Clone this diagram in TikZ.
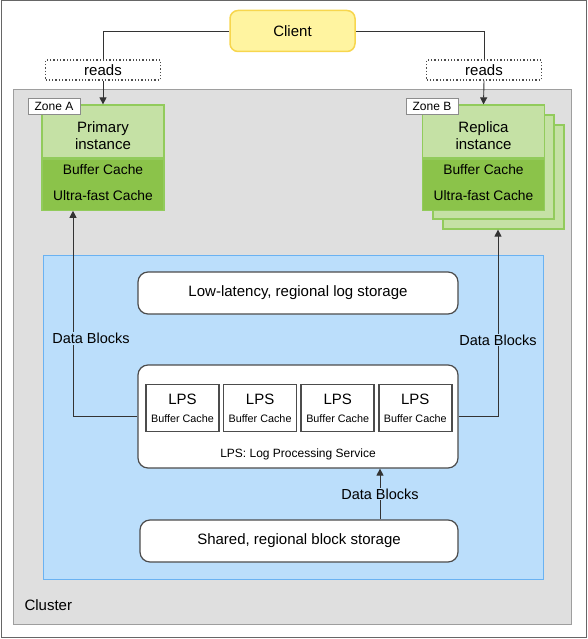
\documentclass[tikz,border=0pt]{standalone}
\usepackage{fontspec}
\setmainfont{Liberation Sans}
\usetikzlibrary{positioning,arrows.meta}

\definecolor{clusterfill}{HTML}{DFDFDF}
\definecolor{clusterline}{HTML}{9E9E9E}
\definecolor{bluefill}{HTML}{BBDEFB}
\definecolor{blueline}{HTML}{6AB2F2}
\definecolor{lightgreen}{HTML}{C5E1A5}
\definecolor{darkgreen}{HTML}{8BC34A}
\definecolor{instline}{HTML}{92CB5C}
\definecolor{clientfill}{HTML}{FFF4A0}
\definecolor{clientline}{HTML}{F7D64E}

\begin{document}
\begin{tikzpicture}[x=1pt,y=-1pt,>={Triangle[length=7pt,width=7pt]},
    cluster/.style={draw=clusterline,fill=clusterfill,line width=1.2pt,inner sep=0pt},
    region/.style={draw=blueline,fill=bluefill,line width=1.2pt,inner sep=0pt},
    client node/.style={draw=clientline,fill=clientfill,line width=1.5pt,rounded corners=8pt,minimum width=125pt,minimum height=41pt,inner sep=0pt,font=\fontsize{15}{17}\selectfont},
    reads node/.style={draw=black!70,fill=white,dotted,line width=1.3pt,minimum width=115pt,minimum height=20pt,inner sep=0pt,font=\fontsize{15}{17}\selectfont},
    zone node/.style={draw=black!45,fill=white,line width=0.9pt,minimum width=52pt,minimum height=16pt,inner sep=0pt,font=\fontsize{12}{14}\selectfont},
    inst top/.style={draw=instline,fill=lightgreen,line width=1.2pt,minimum width=122pt,minimum height=53pt,inner sep=0pt,align=center,font=\fontsize{15}{17}\selectfont},
    inst bottom/.style={draw=instline,fill=darkgreen,line width=1.2pt,minimum width=122pt,minimum height=51pt,inner sep=0pt,align=center,font=\fontsize{13.8}{15}\selectfont},
    inst copy/.style={draw=instline,fill=lightgreen,line width=1.2pt,minimum width=121pt,minimum height=104pt,inner sep=0pt},
    store node/.style={draw=black!70,fill=white,line width=1.2pt,rounded corners=10pt,minimum width=320pt,minimum height=42pt,inner sep=0pt,font=\fontsize{15}{17}\selectfont},
    lps node/.style={draw=black!70,fill=white,line width=1.6pt,minimum width=73pt,minimum height=47pt,inner sep=0pt,align=center,font=\fontsize{15}{17}\selectfont},
    link/.style={draw=black!80,line width=0.9pt},
    dlabel/.style={fill=bluefill,inner sep=1pt,font=\fontsize{14.5}{16}\selectfont}]

    \useasboundingbox (0,0) rectangle (587,639);
    \draw[black!60,line width=1pt] (1,1) rectangle (586,637.5);

    % cluster and storage region
    \node[cluster,anchor=north west,minimum width=558pt,minimum height=535pt] (cluster) at (13,89) {};
    \node[anchor=west,font=\fontsize{15}{17}\selectfont] (clustername) at (21,605) {Cluster};
    \node[region,anchor=north west,minimum width=500pt,minimum height=324pt] (region) at (43,255) {};

    % client and reads
    \node[client node] (client) at (292.5,31) {Client};
    \node[reads node] (readsA) at (103,70) {reads};
    \node[reads node] (readsB) at (484,70) {reads};

    % primary instance
    \node[inst top] (prim) at (103,131.5) {\rule{0pt}{20pt}Primary\\instance};
    \node[inst bottom,below=0pt of prim] (primc) {Buffer Cache\\[11pt]Ultra-fast Cache\rule[-4pt]{0pt}{4pt}};
    \node[zone node] (zoneA) at (54,106) {Zone A};

    % replica instances
    \node[inst copy] (rep3) at (503.5,177) {};
    \node[inst copy] (rep2) at (493.5,167) {};
    \node[inst top] (rep) at (483.5,131.5) {\rule{0pt}{20pt}Replica\\instance};
    \node[inst bottom,below=0pt of rep] (repc) {Buffer Cache\\[11pt]Ultra-fast Cache\rule[-4pt]{0pt}{4pt}};
    \node[zone node] (zoneB) at (432,106) {Zone B};

    % storage
    \node[store node] (logstore) at (298,293) {Low-latency, regional log storage};
    \node[store node,minimum height=103pt] (lpsbox) at (298,416.5) {};
    \node[lps node] (lps1) at (182.5,408) {LPS\\[1pt]{\fontsize{10.8}{12}\selectfont Buffer Cache}};
    \node[lps node,right=3pt of lps1] (lps2) {LPS\\[1pt]{\fontsize{10.8}{12}\selectfont Buffer Cache}};
    \node[lps node,right=3pt of lps2] (lps3) {LPS\\[1pt]{\fontsize{10.8}{12}\selectfont Buffer Cache}};
    \node[lps node,right=3pt of lps3] (lps4) {LPS\\[1pt]{\fontsize{10.8}{12}\selectfont Buffer Cache}};
    \node[font=\fontsize{12}{14}\selectfont] (lpsname) at ([yshift=14pt]lpsbox.south) {LPS: Log Processing Service};
    \node[store node,minimum width=318pt] (shared) at (299,541) {Shared, regional block storage};

    % connectors
    \draw[link] (client.west) -| (readsA.north);
    \draw[link,->] (readsA.south) -- (prim.north);
    \draw[link] (client.east) -| (readsB.north);
    \draw[link,->] (readsB.south) -- (rep.north);
    \draw[link,->] (lpsbox.west) -| node[dlabel,pos=0.69,xshift=18pt] {Data Blocks} ([xshift=-30pt]primc.south);
    \draw[link,->] (lpsbox.east) -| node[dlabel,pos=0.705] {Data Blocks} ([xshift=-5.5pt]rep3.south);
    \draw[link,->] ([xshift=81pt]shared.north) -- ([xshift=81pt]shared.north |- lpsbox.south) node[dlabel,midway] {Data Blocks};
\end{tikzpicture}
\end{document}
